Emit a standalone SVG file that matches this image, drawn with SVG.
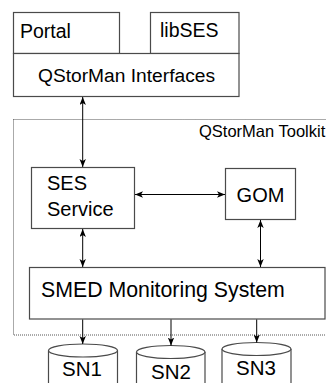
<svg xmlns="http://www.w3.org/2000/svg" width="326" height="383" viewBox="0 0 326 383">
<style>
.box{fill:#fff;stroke:#4a4a4a;stroke-width:1.2}
.t{font-family:"Liberation Sans",Arial,sans-serif;fill:#000}
.c{stroke:#000;stroke-width:1;fill:none}
</style>
<defs>
<marker id="ah" viewBox="0 0 10 8" refX="10" refY="4" markerWidth="8" markerHeight="6.4" orient="auto-start-reverse" markerUnits="userSpaceOnUse">
<path d="M0,0 L10,4 L0,8 L2.5,4 z" fill="#000"/>
</marker>
</defs>
<rect width="326" height="383" fill="#fff"/>
<g id="toolkit">
<rect x="13.5" y="119.5" width="320" height="215.5" fill="none" stroke="#555" stroke-width="1" stroke-dasharray="1,1"/>
<text class="t" x="199" y="137" font-size="16.5">QStorMan Toolkit</text>
</g>
<g id="portal">
<rect class="box" x="13.5" y="12.5" width="106" height="41"/>
<text class="t" x="20" y="37.5" font-size="19.5">Portal</text>
</g>
<g id="libses">
<rect class="box" x="150.5" y="12.5" width="88.5" height="41"/>
<text class="t" x="160" y="36.5" font-size="19.5">libSES</text>
</g>
<g id="interfaces">
<rect class="box" x="13.5" y="53.5" width="225.5" height="43"/>
<text class="t" x="126.5" y="81.5" font-size="19.2" text-anchor="middle">QStorMan Interfaces</text>
</g>
<g id="ses">
<rect class="box" x="31.5" y="167.5" width="103" height="61"/>
<text class="t" x="47" y="189.5" font-size="20">SES</text>
<text class="t" x="47" y="215.5" font-size="20">Service</text>
</g>
<g id="gom">
<rect class="box" x="225.5" y="168.5" width="70" height="51"/>
<text class="t" x="260.5" y="201.5" font-size="20" text-anchor="middle">GOM</text>
</g>
<g id="smed">
<rect class="box" x="29.5" y="267.5" width="295.5" height="51.5"/>
<text class="t" x="41" y="296.5" font-size="21.3">SMED Monitoring System</text>
</g>
<g id="sn1">
<path class="box" d="M48.5,350.5 L48.5,390 L117.5,390 L117.5,350.5"/>
<ellipse class="box" cx="83" cy="350.5" rx="34.5" ry="6.5"/>
<text class="t" x="82" y="375.5" font-size="20.5" text-anchor="middle">SN1</text>
</g>
<g id="sn2">
<path class="box" d="M136.5,352 L136.5,390 L205,390 L205,352"/>
<ellipse class="box" cx="170.75" cy="352" rx="34.25" ry="6.5"/>
<text class="t" x="171" y="379" font-size="20.5" text-anchor="middle">SN2</text>
</g>
<g id="sn3">
<path class="box" d="M222,349 L222,390 L291,390 L291,349"/>
<ellipse class="box" cx="256.5" cy="349" rx="34.5" ry="6.5"/>
<text class="t" x="256" y="375" font-size="20.5" text-anchor="middle">SN3</text>
</g>
<g id="connectors">
<line class="c" x1="82.7" y1="97" x2="82.7" y2="167" marker-start="url(#ah)" marker-end="url(#ah)"/>
<line class="c" x1="135" y1="194.5" x2="225" y2="194.5" marker-start="url(#ah)" marker-end="url(#ah)"/>
<line class="c" x1="82.7" y1="229" x2="82.7" y2="267" marker-start="url(#ah)" marker-end="url(#ah)"/>
<line class="c" x1="260.5" y1="220" x2="260.5" y2="267" marker-start="url(#ah)" marker-end="url(#ah)"/>
<line class="c" x1="82.7" y1="319.5" x2="82.7" y2="344" marker-end="url(#ah)"/>
<line class="c" x1="171" y1="319.5" x2="171" y2="345.5" marker-end="url(#ah)"/>
<line class="c" x1="256.7" y1="319.5" x2="256.7" y2="342.5" marker-end="url(#ah)"/>
</g>
</svg>
